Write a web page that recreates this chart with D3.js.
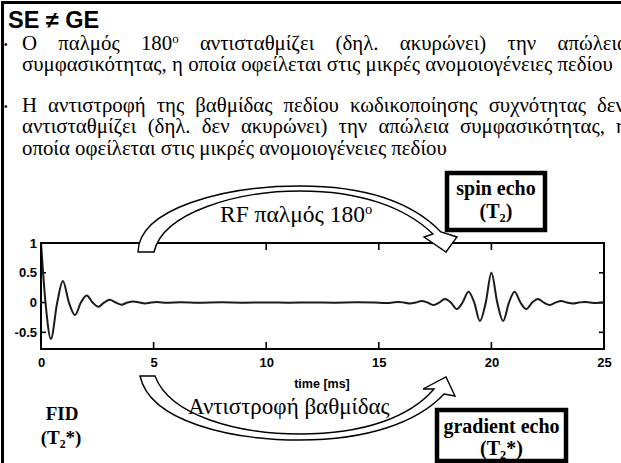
<!DOCTYPE html>
<html>
<head>
<meta charset="utf-8">
<script src="https://cdn.jsdelivr.net/npm/d3@7/dist/d3.min.js"></script>
<style>
  html, body { margin: 0; padding: 0; background: #fff; }
  svg { display: block; }
</style>
</head>
<body>
<svg id="chart" width="621" height="463"></svg>
<script>
// ---- signal trace: extrema and zero crossings of the FID and the echo ----
const timeMs = [
  0, 0.2, 0.44, 0.72, 0.97, 1.24, 1.51, 1.77, 2.03, 2.29, 2.55, 2.8, 3.05, 3.32,
  3.58, 3.84, 4.1, 4.36, 4.62, 4.88, 5.14, 5.6, 6.2, 7.0, 8.0, 9.0, 10.0, 11.0,
  12.0, 13.0, 14.0, 14.8, 15.34, 15.6, 15.86, 16.12, 16.38, 16.64, 16.9, 17.16,
  17.42, 17.68, 17.94, 18.2, 18.46, 18.72, 18.98, 19.24, 19.49, 19.75, 20.0,
  20.26, 20.52, 20.78, 21.03, 21.29, 21.55, 21.81, 22.07, 22.33, 22.59, 22.85,
  23.1, 23.36, 23.62, 23.88, 24.14, 24.4, 24.66, 25.0
];
const amplitude = [
  1.0, 0, -0.61, 0, 0.36, 0, -0.21, 0, 0.12, 0, -0.07, 0, 0.045, 0,
  -0.035, 0, 0.018, 0, -0.014, 0, 0.008, -0.005, 0.004, -0.003, 0.003, -0.002, 0.002, -0.002,
  0.002, -0.002, 0.003, 0, -0.006, 0, 0.01, 0, -0.015, 0, 0.025, 0,
  -0.04, 0, 0.06, 0, -0.11, 0, 0.18, 0, -0.31, 0, 0.5,
  0, -0.31, 0, 0.18, 0, -0.11, 0, 0.06, 0, -0.04, 0,
  0.025, 0, -0.015, 0, 0.01, 0, -0.006, 0
];

const xTicks = [0, 5, 10, 15, 20, 25];
const yTicks = [1, 0.5, 0, -0.5];
const yTickLabels = ["1", "0.5", "0", "-0.5"];
const xLabel = "time [ms]";

// ---- slide text ----
const title = "SE \u2260 GE";
const bodyLines = [
  { words: ["Ο", "παλμός", "180^ο", "αντισταθμίζει", "(δηλ.", "ακυρώνει)", "την", "απώλεια"], bullet: true, justify: true },
  { words: ["συμφασικότητας,", "η", "οποία", "οφείλεται", "στις", "μικρές", "ανομοιογένειες", "πεδίου"], bullet: false, justify: false },
  { words: ["Η", "αντιστροφή", "της", "βαθμίδας", "πεδίου", "κωδικοποίησης", "συχνότητας", "δεν"], bullet: true, justify: true },
  { words: ["αντισταθμίζει", "(δηλ.", "δεν", "ακυρώνει)", "την", "απώλεια", "συμφασικότητας,", "η"], bullet: false, justify: true },
  { words: ["οποία", "οφείλεται", "στις", "μικρές", "ανομοιογένειες", "πεδίου"], bullet: false, justify: false }
];
const topArrowLabel = "RF παλμός 180^ο";
const bottomArrowLabel = "Αντιστροφή βαθμίδας";
const spinEchoLabel = ["spin echo", "(T_2)"];
const gradEchoLabel = ["gradient echo", "(T_2*)"];
const fidLabel = ["FID", "(T_2*)"];

// ---- layout ----
const svg = d3.select("#chart");
const W = 621, H = 463;
const plot = { left: 41, right: 604, top: 243, bottom: 349 };
const serif = "'Liberation Serif', 'Times New Roman', serif";
const narrow = "'Liberation Sans Narrow', 'Arial Narrow', 'Liberation Sans', sans-serif";
const sans = "'Liberation Sans', Arial, sans-serif";

svg.append("rect").attr("width", W).attr("height", H).attr("fill", "#fff");

// slide frame (left and top edges are the ones inside the view)
svg.append("path")
  .attr("d", `M2.5,${H} L2.5,2.5 L${W},2.5`)
  .attr("fill", "none").attr("stroke", "#000").attr("stroke-width", 3);

// title
svg.append("text").attr("x", 8).attr("y", 28)
  .attr("font-family", sans).attr("font-weight", "bold").attr("font-size", 23.5)
  .text(title);

// writes a string with optional ^superscript / _subscript parts into a text element
function richText(sel, str, size) {
  const re = /(\^[^\s]+|_[^\s*)]+)/;
  const parts = str.split(re).filter(p => p.length);
  let shift = 0;
  parts.forEach(p => {
    if (p[0] === "^") {
      sel.append("tspan").attr("font-size", size * 0.62).attr("dy", -size * 0.36 - shift).text(p.slice(1));
      shift = -size * 0.36;
    } else if (p[0] === "_") {
      sel.append("tspan").attr("font-size", size * 0.62).attr("dy", size * 0.22 - shift).text(p.slice(1));
      shift = size * 0.22;
    } else {
      sel.append("tspan").attr("dy", -shift).text(p);
      shift = 0;
    }
  });
  return sel;
}

// body text: size fitted so the last line spans its measured width
const textLeft = 22;
const baselines = [50, 71, 112, 133, 155];
const justifyRight = [628, null, 625, 627, null];
const lastLineWidth = 425;
const probe = svg.append("text").attr("font-family", serif).attr("font-size", 20)
  .text(bodyLines[4].words.join(" "));
const bodySize = 20 * lastLineWidth / probe.node().getComputedTextLength();
probe.remove();

const body = svg.append("g").attr("font-family", serif).attr("font-size", bodySize).attr("fill", "#000");
const spaceProbe = body.append("text").text("a a");
const noSpace = body.append("text").text("aa");
const spaceW = spaceProbe.node().getComputedTextLength() - noSpace.node().getComputedTextLength();
spaceProbe.remove(); noSpace.remove();

bodyLines.forEach((line, i) => {
  const yb = baselines[i];
  if (line.bullet) {
    body.append("text").attr("x", 4).attr("y", yb - 2)
      .attr("font-family", sans).attr("font-size", 10).text("\u2022");
  }
  const nodes = line.words.map(w => richText(body.append("text").attr("y", yb), w, bodySize));
  const widths = nodes.map(n => n.node().getComputedTextLength());
  const total = d3.sum(widths);
  const gap = line.justify
    ? (justifyRight[i] - textLeft - total) / (line.words.length - 1)
    : spaceW;
  let cx = textLeft;
  nodes.forEach((n, k) => { n.attr("x", cx); cx += widths[k] + gap; });
});

// ---- scales & axes ----
const x = d3.scaleLinear().domain([0, 25]).range([plot.left, plot.right]);
const y = d3.scaleLinear().domain([-0.78, 1]).range([plot.bottom, plot.top]);

const axisG = svg.append("g").attr("font-family", narrow).attr("font-weight", "bold").attr("font-size", 13);

const inner = xTicks.filter(t => t > 0 && t < 25);
const xAxisBottom = d3.axisBottom(x).tickValues(xTicks).tickSize(0).tickPadding(9)
  .tickFormat(d3.format("d"));
axisG.append("g").attr("transform", `translate(0,${plot.bottom})`).call(xAxisBottom)
  .call(g => g.select(".domain").remove())
  .call(g => g.selectAll("text").attr("fill", "#000").attr("font-family", narrow).attr("font-size", 13));

const yAxisLeft = d3.axisLeft(y).tickValues(yTicks).tickSize(0).tickPadding(4)
  .tickFormat((d, i) => yTickLabels[i]);
axisG.append("g").attr("transform", `translate(${plot.left},0)`).call(yAxisLeft)
  .call(g => g.select(".domain").remove())
  .call(g => g.selectAll("text").attr("fill", "#000").attr("font-family", narrow).attr("font-size", 13));

// inward tick marks on all four sides
const tickG = svg.append("g").attr("stroke", "#000").attr("stroke-width", 1.6);
inner.forEach(t => {
  tickG.append("line").attr("x1", x(t)).attr("x2", x(t)).attr("y1", plot.bottom).attr("y2", plot.bottom - 7);
  tickG.append("line").attr("x1", x(t)).attr("x2", x(t)).attr("y1", plot.top).attr("y2", plot.top + 7);
});
yTicks.filter(v => v < 1).forEach(v => {
  tickG.append("line").attr("x1", plot.left).attr("x2", plot.left + 5).attr("y1", y(v)).attr("y2", y(v));
  tickG.append("line").attr("x1", plot.right).attr("x2", plot.right - 5).attr("y1", y(v)).attr("y2", y(v));
});

// axis title
svg.append("text").attr("x", 322).attr("y", 388)
  .attr("text-anchor", "middle").attr("font-family", narrow).attr("font-weight", "bold")
  .attr("font-size", 12.5).text(xLabel);

// signal trace
const points = timeMs.map((t, i) => [t, amplitude[i]]);
svg.append("path").datum(points)
  .attr("d", d3.line().x(d => x(d[0])).y(d => y(d[1])).curve(d3.curveMonotoneX))
  .attr("fill", "none").attr("stroke", "#1a1a1a").attr("stroke-width", 2)
  .attr("stroke-linejoin", "round");

// plot frame
svg.append("rect")
  .attr("x", plot.left).attr("y", plot.top)
  .attr("width", plot.right - plot.left).attr("height", plot.bottom - plot.top)
  .attr("fill", "none").attr("stroke", "#000").attr("stroke-width", 2);

// ---- curved block arrows ----
const arrowStyle = sel => sel.attr("fill", "#fff").attr("stroke", "#000").attr("stroke-width", 1.4)
  .attr("stroke-linejoin", "miter");

// RF pulse arrow: from the FID over the top to the spin echo
svg.append("path").call(arrowStyle).attr("d",
  "M138,252 C139,208 225,186 300,186 C362,186 410,200 441,232 " +
  "L457,237 L446,252 L424,237 L433,234 " +
  "C405,207 360,191 300,191 C238,191 163,212 154,252 Z");

// gradient reversal arrow: from the FID under the axis to the gradient echo
svg.append("path").call(arrowStyle).attr("d",
  "M140,376 C150,422 232,440 300,440 C368,440 418,422 444,394 " +
  "L455,396 L446,377 L423,389 L434,389 " +
  "C410,417 364,434 300,434 C238,434 170,416 155,376 Z");

// arrow captions
richText(svg.append("text").attr("x", 220).attr("y", 222)
  .attr("font-family", serif).attr("font-size", 23.5), topArrowLabel, 23.5);
svg.append("text").attr("x", 188).attr("y", 414)
  .attr("font-family", serif).attr("font-size", 23).text(bottomArrowLabel);

// labelled boxes
function labelBox(x0, y0, x1, y1, lines, base1, base2, size) {
  svg.append("rect").attr("x", x0).attr("y", y0).attr("width", x1 - x0).attr("height", y1 - y0)
    .attr("fill", "#fff").attr("stroke", "#000").attr("stroke-width", 4.5);
  const cx = (x0 + x1) / 2;
  svg.append("text").attr("x", cx).attr("y", base1).attr("text-anchor", "middle")
    .attr("font-family", serif).attr("font-weight", "bold").attr("font-size", size).text(lines[0]);
  richText(svg.append("text").attr("x", cx).attr("y", base2).attr("text-anchor", "middle")
    .attr("font-family", serif).attr("font-weight", "bold").attr("font-size", size), lines[1], size);
}
labelBox(447, 173, 545, 230, spinEchoLabel, 195, 218, 20);
labelBox(437, 410, 566, 461, gradEchoLabel, 433, 455, 20);

// FID caption
svg.append("text").attr("x", 62).attr("y", 420).attr("text-anchor", "middle")
  .attr("font-family", serif).attr("font-weight", "bold").attr("font-size", 19).text(fidLabel[0]);
richText(svg.append("text").attr("x", 61).attr("y", 444).attr("text-anchor", "middle")
  .attr("font-family", serif).attr("font-weight", "bold").attr("font-size", 19), fidLabel[1], 19);
</script>
</body>
</html>
